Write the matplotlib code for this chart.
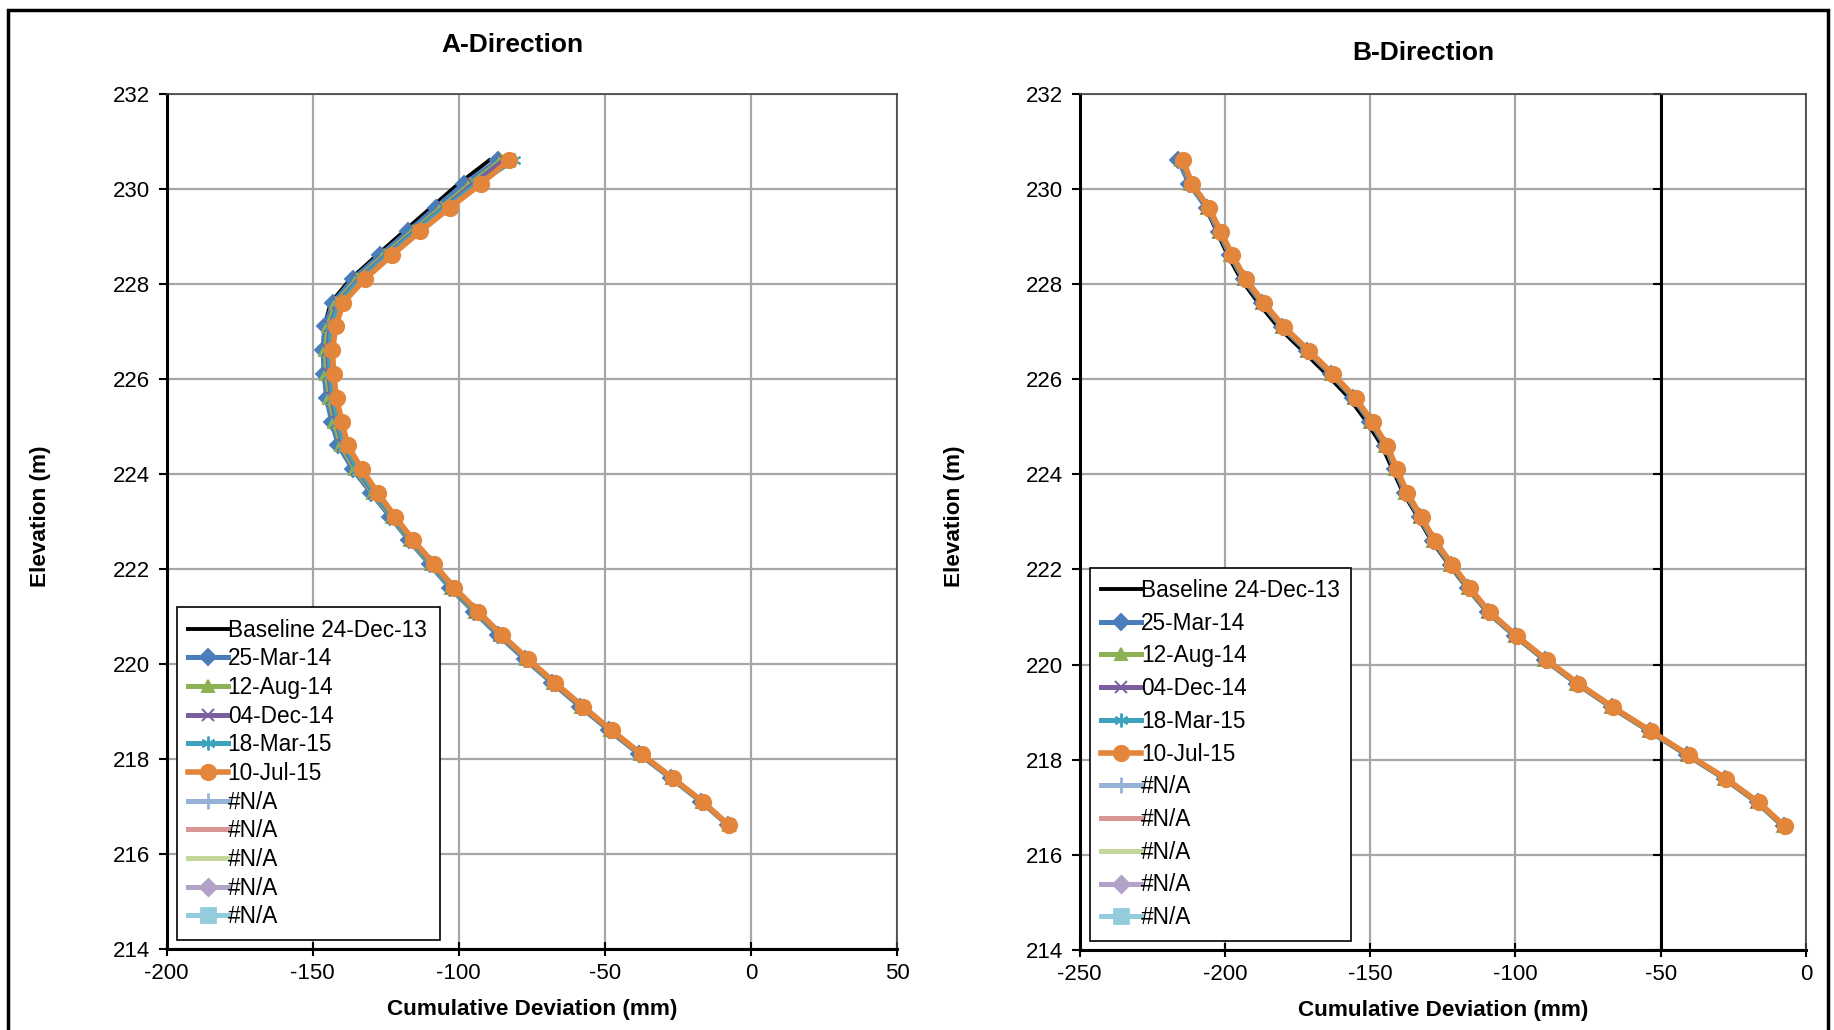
import matplotlib
matplotlib.use("Agg")
import matplotlib.pyplot as plt
from matplotlib.lines import Line2D
from matplotlib.patches import Rectangle

plt.rcParams['font.family'] = ['Liberation Sans', 'DejaVu Sans']
plt.rcParams['axes.unicode_minus'] = False

# elevations (m), top to bottom
elev = [230.6, 230.1, 229.6, 229.1, 228.6, 228.1, 227.6, 227.1, 226.6, 226.1,
        225.6, 225.1, 224.6, 224.1, 223.6, 223.1, 222.6, 222.1, 221.6, 221.1,
        220.6, 220.1, 219.6, 219.1, 218.6, 218.1, 217.6, 217.1, 216.6]

labels = ["Baseline 24-Dec-13", "25-Mar-14", "12-Aug-14", "04-Dec-14", "18-Mar-15", "10-Jul-15"]

# A-direction cumulative deviation (mm)
a_base = [-89.5, -100.1, -109.5, -118.8, -128.0, -137.0, -143.8, -146.0, -146.4, -146.0,
          -145.0, -143.3, -141.0, -136.0, -129.8, -123.3, -116.8, -109.8, -102.8, -94.6,
          -86.2, -77.2, -67.8, -58.2, -48.3, -38.0, -27.3, -16.8, -7.6]
a_mar14 = [-86.4, -98.2, -107.9, -117.2, -126.9, -136.1, -143.0, -145.8, -146.4, -146.1,
           -145.2, -143.5, -141.2, -136.3, -130.0, -123.5, -117.0, -110.0, -103.0, -94.8,
           -86.4, -77.4, -68.0, -58.4, -48.5, -38.2, -27.5, -17.0, -7.8]
a_aug14 = [-85.5, -96.0, -106.0, -115.8, -125.5, -134.8, -142.0, -144.8, -145.6, -145.3,
           -144.3, -142.6, -140.4, -135.5, -129.4, -123.0, -116.6, -109.6, -102.6, -94.4,
           -86.0, -77.0, -67.6, -58.0, -48.1, -37.8, -27.1, -16.8, -7.6]
a_dec14 = [-84.5, -95.0, -105.0, -115.0, -124.7, -134.0, -141.2, -144.0, -144.8, -144.5,
           -143.5, -141.8, -139.6, -134.8, -129.0, -122.6, -116.2, -109.2, -102.3, -94.0,
           -85.8, -76.8, -67.4, -57.8, -48.0, -37.7, -27.0, -16.7, -7.5]
a_mar15 = [-81.0, -93.8, -104.5, -114.5, -124.2, -133.5, -140.8, -143.5, -144.3, -144.0,
           -143.0, -141.3, -139.2, -134.4, -128.7, -122.4, -116.0, -109.0, -102.1, -93.8,
           -85.6, -76.6, -67.2, -57.6, -47.8, -37.6, -26.9, -16.6, -7.5]
a_jul15 = [-82.7, -92.4, -103.0, -113.2, -122.9, -132.1, -139.5, -142.1, -143.2, -142.8,
           -141.8, -140.0, -138.0, -133.2, -127.7, -121.8, -115.5, -108.4, -101.5, -93.3,
           -85.1, -76.2, -67.0, -57.4, -47.6, -37.4, -26.8, -16.5, -7.4]

# B-direction cumulative deviation (mm)
b_base = [-215.2, -212.0, -206.6, -202.8, -199.0, -194.5, -188.5, -181.8, -173.3, -165.0,
          -157.2, -151.2, -146.0, -142.3, -138.6, -133.6, -128.9, -122.9, -116.6, -109.8,
          -100.4, -90.1, -79.1, -67.0, -53.9, -41.0, -27.9, -16.7, -7.7]
b_mar14 = [-216.0, -212.3, -206.3, -202.2, -198.2, -193.6, -187.4, -180.5, -171.9, -163.5,
           -155.8, -150.0, -144.9, -141.4, -137.9, -133.0, -128.3, -122.3, -116.2, -109.4,
           -100.1, -89.9, -78.9, -66.9, -53.8, -40.9, -27.8, -16.6, -7.6]
b_aug14 = [-215.1, -212.0, -206.2, -202.1, -198.1, -193.5, -187.3, -180.4, -171.8, -163.4,
           -155.7, -149.9, -144.8, -141.4, -137.9, -133.0, -128.4, -122.4, -116.3, -109.5,
           -100.2, -90.0, -79.0, -67.0, -54.0, -41.1, -28.1, -16.9, -7.9]
b_dec14 = [-214.9, -211.8, -206.0, -201.9, -197.9, -193.3, -187.1, -180.2, -171.6, -163.2,
           -155.5, -149.7, -144.6, -141.2, -137.7, -132.8, -128.2, -122.2, -116.1, -109.3,
           -100.0, -89.8, -78.8, -66.8, -53.8, -40.9, -27.9, -16.7, -7.7]
b_mar15 = [-214.7, -211.6, -205.8, -201.7, -197.7, -193.1, -186.9, -180.0, -171.4, -163.0,
           -155.3, -149.5, -144.4, -141.0, -137.5, -132.6, -128.0, -122.0, -115.9, -109.1,
           -99.8, -89.6, -78.6, -66.6, -53.6, -40.7, -27.7, -16.5, -7.5]
b_jul15 = [-214.4, -211.3, -205.5, -201.4, -197.4, -192.8, -186.6, -179.7, -171.1, -162.7,
           -155.0, -149.2, -144.1, -140.7, -137.2, -132.3, -127.7, -121.7, -115.6, -108.8,
           -99.5, -89.3, -78.3, -66.3, -53.3, -40.4, -27.4, -16.2, -7.2]

a_series = [a_base, a_mar14, a_aug14, a_dec14, a_mar15, a_jul15]
b_series = [b_base, b_mar14, b_aug14, b_dec14, b_mar15, b_jul15]

yticks = [214, 216, 218, 220, 222, 224, 226, 228, 230, 232]
a_xticks = [-200, -150, -100, -50, 0, 50]
b_xticks = [-250, -200, -150, -100, -50, 0]

colors = ["black", "#4A7EBB", "#8DB255", "#7B5E9E", "#3FA2BC", "#E3853A"]
markers = [None, "D", "^", "x", (6, 2, 0), "o"]
msizes = [0, 8, 9, 9, 10, 11]
lwidths = [2.8, 3.6, 3.6, 3.6, 3.6, 4.0]

# legend-only "#N/A" series
na_colors = ["#95B3D7", "#D99694", "#C3D69B", "#B3A2C7", "#93CDDD"]
na_markers = ["|", "_", "_", "D", "s"]
na_msizes = [11, 9, 9, 8, 10]

fig = plt.figure(figsize=(18.34, 10.30), dpi=100)
axA = fig.add_axes([0.0908, 0.0786, 0.3983, 0.8305])
axB = fig.add_axes([0.5887, 0.0777, 0.3960, 0.8314])

# chart border
fig.patches.append(Rectangle((0.0045, -0.05), 0.9925, 1.04, transform=fig.transFigure,
                             fill=False, edgecolor="black", linewidth=2.5))


def draw(ax, series, xticks, title, title_y, leg_spacing):
    for i, xs in enumerate(series):
        ax.plot(xs, elev, color=colors[i], lw=lwidths[i], marker=markers[i],
                ms=msizes[i], mec=colors[i], mew=1.4, zorder=3 + i)
    ax.set_xlim(xticks[0], xticks[-1])
    ax.set_ylim(214, 232)
    ax.set_xticks(xticks)
    ax.set_yticks(yticks)
    ax.grid(True, color="#a6a6a6", lw=1.6)
    ax.set_axisbelow(True)
    ax.tick_params(axis="x", direction="inout", length=10, width=1.5, labelsize=16, pad=5)
    ax.tick_params(axis="y", direction="out", length=6, width=1.5, labelsize=16, pad=6)
    for side in ["left", "bottom"]:
        ax.spines[side].set_linewidth(2.2)
    for side in ["top", "right"]:
        ax.spines[side].set_linewidth(1.2)
        ax.spines[side].set_color("#404040")
    ax.text(0.473, title_y, title, transform=ax.transAxes, ha="center", va="center",
            fontsize=19, fontweight="bold")
    ax.set_xlabel("Cumulative Deviation (mm)", fontsize=16.2, fontweight="bold")
    ax.set_ylabel("Elevation (m)", fontsize=16.2, fontweight="bold")
    ax.xaxis.set_label_coords(0.5, -0.058)
    ax.yaxis.set_label_coords(-0.158, 0.506)

    handles = []
    for i in range(6):
        handles.append(Line2D([], [], color=colors[i], lw=lwidths[i], marker=markers[i],
                              ms=msizes[i], mec=colors[i], mew=1.4))
    for c, m, s in zip(na_colors, na_markers, na_msizes):
        handles.append(Line2D([], [], color=c, lw=3.6, marker=m, ms=s, mec=c, mew=2))
    leg = ax.legend(handles, labels + ["#N/A"] * 5, loc="lower left",
                    bbox_to_anchor=(0.014, 0.011, 0.36, 0.3), mode="expand",
                    fontsize=16.3, frameon=True, fancybox=False, edgecolor="black",
                    framealpha=1, handlelength=1.75, handletextpad=0.0,
                    labelspacing=leg_spacing, borderpad=0.5, borderaxespad=0)
    leg.get_frame().set_linewidth(1.2)
    leg.set_zorder(20)


draw(axA, a_series, a_xticks, "A-Direction", 1.0566, 0.25)
draw(axB, b_series, b_xticks, "B-Direction", 1.048, 0.43)

# B chart vertical axis crosses at -50
axB.axvline(-50, color="black", lw=2.2, zorder=2)
axB.plot([-50] * len(yticks), yticks, ls="none", marker=0, ms=6, mew=1.5,
         color="black", zorder=2, clip_on=False)

fig.savefig("out.png", dpi=100)
